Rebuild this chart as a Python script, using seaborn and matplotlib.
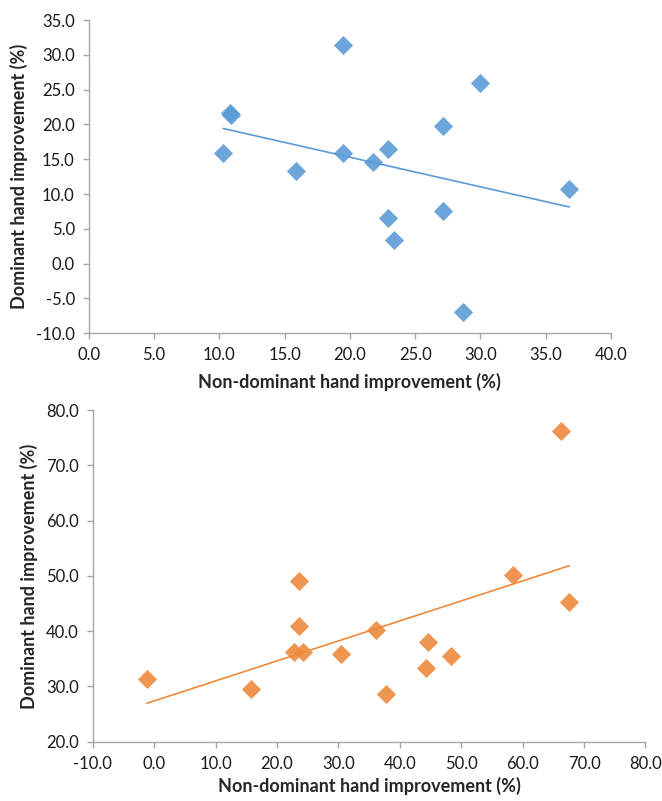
import numpy as np
import pandas as pd
import seaborn as sns
import matplotlib.pyplot as plt

# Top panel: first test values
top_nondominant = [10.3, 10.8, 10.9, 15.9, 19.5, 19.5, 21.8, 22.9, 22.9, 23.4, 27.1, 27.1, 28.7, 30.0, 36.8]
top_dominant = [15.9, 21.7, 21.3, 13.3, 31.4, 15.9, 14.6, 16.4, 6.6, 3.4, 19.8, 7.6, -7.0, 26.0, 10.7]

# Bottom panel: second test values
bottom_nondominant = [-1.2, 15.8, 22.8, 23.6, 23.6, 24.3, 30.5, 36.2, 37.8, 44.2, 44.6, 48.4, 58.5, 66.3, 67.6]
bottom_dominant = [31.4, 29.6, 36.3, 49.0, 41.0, 36.3, 35.9, 40.3, 28.7, 33.4, 38.0, 35.6, 50.1, 76.3, 45.3]

x_label = 'Non-dominant hand improvement (%)'
y_label = 'Dominant hand improvement (%)'

sns.set_style('white')
plt.rcParams['font.family'] = ['Lato', 'DejaVu Sans']

fig = plt.figure(figsize=(6.62, 8.01), dpi=100)
ax_top = fig.add_axes([0.134, 0.584, 0.789, 0.391])
ax_bot = fig.add_axes([0.140, 0.074, 0.835, 0.414])


def draw_panel(ax, x, y, color, xticks, yticks, xpad):
    df = pd.DataFrame({'x': x, 'y': y})
    sns.regplot(data=df, x='x', y='y', ax=ax, ci=None, color=color,
                marker='D', scatter_kws={'s': 95, 'alpha': 0.9, 'linewidths': 0},
                line_kws={'linewidth': 1.2})
    ax.set_xlim(xticks[0], xticks[-1])
    ax.set_ylim(yticks[0], yticks[-1])
    ax.set_xticks(xticks)
    ax.set_yticks(yticks)
    ax.set_xticklabels([f'{t:.1f}' for t in xticks])
    ax.set_yticklabels([f'{t:.1f}' for t in yticks])
    for side in ['top', 'right']:
        ax.spines[side].set_visible(False)
    for side in ['left', 'bottom']:
        ax.spines[side].set_color('#A6A6A6')
        ax.spines[side].set_linewidth(1.0)
    ax.tick_params(axis='both', direction='out', length=4, width=1.0,
                   color='#A6A6A6', labelsize=12, labelcolor='#1a1a1a',
                   bottom=True, left=True, pad=6)
    ax.set_xlabel(x_label, fontsize=13, fontweight='bold', labelpad=xpad)
    ax.set_ylabel(y_label, fontsize=13, fontweight='bold', labelpad=6)


draw_panel(ax_top, top_nondominant, top_dominant, '#5B9BD5',
           np.arange(0, 41, 5), np.arange(-10, 36, 5), 7)
draw_panel(ax_bot, bottom_nondominant, bottom_dominant, '#EE8A3C',
           np.arange(-10, 81, 10), np.arange(20, 81, 10), 4)

plt.savefig('out.png', dpi=100)
